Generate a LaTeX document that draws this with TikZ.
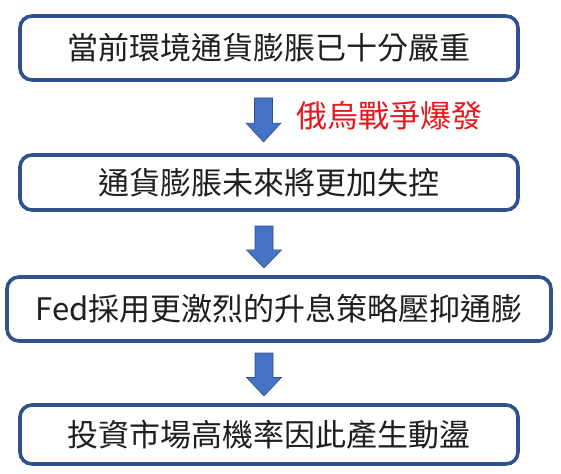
\documentclass[tikz,border=0pt]{standalone}
\usepackage{fontspec}
\setmainfont{Noto Sans CJK TC}
\definecolor{boxline}{HTML}{2F528F}
\definecolor{arrfill}{HTML}{4472C4}
\definecolor{warred}{HTML}{E8161B}
\newcommand{\blockarrow}[4]{% name, x, ytop, ytip
  \path (#2,#3) coordinate (#1s) (#2,#4) coordinate (#1t);
  \draw[arrowbody] (#2-9,#3) -- (#2+9,#3) -- (#2+9,{#3+0.57*(#4-#3)}) -- (#2+17.5,{#3+0.57*(#4-#3)})
    -- (#1t) -- (#2-17.5,{#3+0.57*(#4-#3)}) -- (#2-9,{#3+0.57*(#4-#3)}) -- cycle;}
\begin{document}
\begin{tikzpicture}[x=1pt,y=-1pt,
  box/.style={draw=boxline, line width=3.6pt, rounded corners=12pt, fill=white,
    inner sep=0pt, font=\fontsize{31}{32}\selectfont, text=black!88},
  arrowbody/.style={fill=arrfill, draw=boxline, line width=0.6pt},
  note/.style={font=\fontsize{31}{32}\selectfont, text=warred}]
\useasboundingbox (0,0) rectangle (561,473);
\fill[white] (0,0) rectangle (561,473);
\node[box, minimum width=498pt, minimum height=64pt] (b1) at (269,48) {當前環境通貨膨脹已十分嚴重};
\node[box, minimum width=498pt, minimum height=55pt] (b2) at (269,182.5) {通貨膨脹未來將更加失控};
\node[box, minimum width=544pt, minimum height=64pt] (b3) at (279,309) {Fed採用更激烈的升息策略壓抑通膨};
\node[box, minimum width=498pt, minimum height=59pt] (b4) at (269,434.5) {投資市場高機率因此產生動盪};
\node[note] (war) at (389,116) {俄烏戰爭爆發};
\blockarrow{a1}{263.5}{98}{142}
\blockarrow{a2}{264}{226}{268}
\blockarrow{a3}{264}{353}{396}
\end{tikzpicture}
\end{document}
